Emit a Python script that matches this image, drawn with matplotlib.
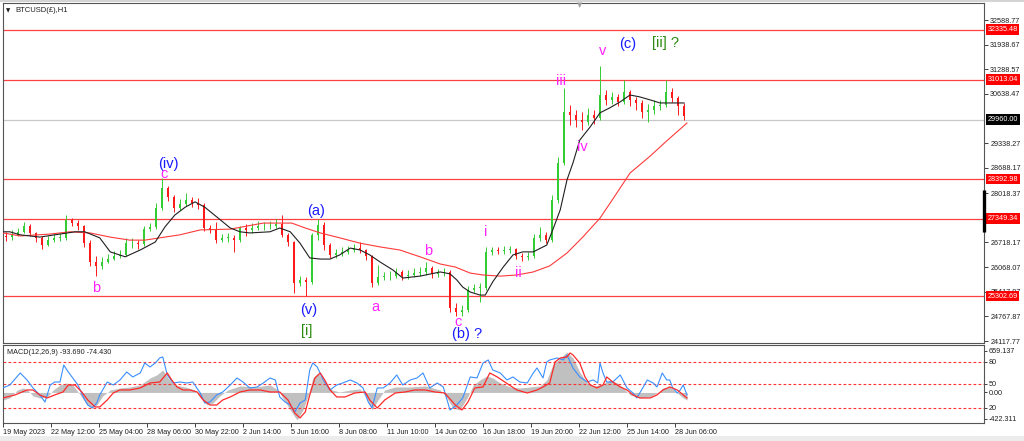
import matplotlib
matplotlib.use('Agg')
import matplotlib.pyplot as plt
import numpy as np
from matplotlib.patches import Rectangle
from matplotlib.transforms import blended_transform_factory

plt.rcParams['font.family'] = ['Liberation Sans', 'DejaVu Sans']

# ---------------- data ----------------
BARS_PER_CANDLE = 8          # each drawn candle groups 8 hourly bars
first_open = 26890

close = [
    26860, 26920, 27000, 27150, 26970, 26840, 26650, 26780, 26840, 26840,
    27310, 27230, 27150, 26700, 26200, 26100, 26200, 26280, 26360, 26390,
    26700, 26700, 26680, 27070, 27130, 27630, 28160, 27920, 27630, 27730,
    27840, 27760, 27710, 27100, 27050, 26780, 26840, 26840, 26780, 27100,
    27050, 27100, 27150, 27150, 27150, 27210, 26920, 26730, 25650, 25730,
    25680, 26920, 27180, 26650, 26390, 26440, 26470, 26520, 26570, 26520,
    26360, 25650, 25810, 25830, 25830, 25940, 25830, 25860, 25910, 25940,
    26040, 25890, 25910, 25940, 24990, 24880, 24940, 25460, 25520, 25520,
    26470, 26520, 26490, 26520, 26550, 26360, 26340, 26360, 26840, 26920,
    26780, 27840, 28820, 30160, 30080, 29950, 29900, 30080, 30000, 30610,
    30480, 30560, 30430, 30690, 30480, 30400, 30160, 30210, 30320, 30350,
    30690, 30530, 30320, 30060]

high = [
    27000, 27050, 27100, 27260, 27210, 27000, 26890, 26890, 26940, 26970,
    27440, 27360, 27310, 27180, 26780, 26360, 26340, 26410, 26490, 26520,
    26840, 26840, 26780, 27150, 27230, 27760, 28420, 28210, 27970, 27870,
    28020, 27920, 27890, 27760, 27180, 27260, 26940, 26970, 26920, 27150,
    27210, 27230, 27280, 27260, 27280, 27340, 27440, 26970, 26760, 25830,
    25810, 26970, 27340, 27260, 26700, 26550, 26600, 26630, 26680, 26730,
    26550, 26390, 26120, 25940, 25970, 26040, 25990, 25990, 26040, 26070,
    26200, 26100, 26020, 26040, 25990, 25120, 25070, 25570, 25620, 25650,
    26600, 26600, 26600, 26630, 26630, 26570, 26440, 26470, 26940, 27130,
    27000, 27970, 28970, 30800, 30350, 30210, 30160, 30270, 30210, 31380,
    30740, 30690, 30640, 31010, 30740, 30560, 30480, 30370, 30480, 30480,
    31010, 30800, 30580, 30400]

low = [
    26760, 26780, 26890, 26970, 26890, 26730, 26550, 26630, 26730, 26760,
    26780, 27150, 27050, 26600, 26100, 25830, 26020, 26180, 26260, 26310,
    26360, 26570, 26550, 26630, 27020, 27070, 27580, 27810, 27520, 27580,
    27680, 27650, 27600, 27020, 26970, 26700, 26730, 26730, 26470, 26730,
    26890, 26970, 27050, 27050, 27070, 27100, 26860, 26630, 25390, 25570,
    25310, 25620, 26780, 26520, 26310, 26310, 26360, 26410, 26470, 26440,
    26260, 25540, 25600, 25730, 25730, 25780, 25730, 25750, 25810, 25830,
    25860, 25780, 25810, 25830, 24880, 24780, 24780, 24880, 25410, 25150,
    25460, 26390, 26410, 26410, 26440, 26280, 26230, 26260, 26310, 26760,
    26700, 26730, 27760, 28760, 29820, 29770, 29690, 29820, 29840, 29950,
    30350, 30370, 30320, 30370, 30320, 30210, 30000, 29900, 30110, 30210,
    30290, 30430, 30080, 29950]

ma_fast_x = [0, 9, 23, 49, 76, 96, 109, 129, 143, 163, 183, 203, 216, 229, 243, 256, 269, 287, 303, 316,
             329, 356, 369, 383, 396, 409, 423, 436, 449, 463, 476, 489, 503, 520, 533, 556, 583, 596, 605, 613,
             623, 636, 643, 653, 667, 680, 693, 707, 720, 725, 733, 743, 752, 760, 769, 783, 796, 809, 823, 836,
             849, 863, 876, 889, 908]
ma_fast = [27000, 27000, 26920, 26860, 26940, 27000, 27000, 26840, 26470, 26340,
           26520, 26730, 27130, 27440, 27650, 27790, 27650, 27360, 27100, 27000,
           26970, 27000, 27100, 27000, 26700, 26310, 26280, 26280, 26390, 26570,
           26520, 26390, 26200, 25990, 25780, 25830, 25940, 25890, 25730, 25540,
           25410, 25330, 25330, 25680, 26070, 26390, 26470, 26470, 26600, 26650,
           27050, 27580, 28370, 28820, 29420, 29770, 30140, 30270, 30430, 30610,
           30560, 30480, 30400, 30400, 30400]

ma_slow_x = [0, 23, 63, 89, 116, 143, 169, 189, 209, 236, 263, 303, 347, 385, 403, 423, 449, 476, 503, 529,
             556, 583, 603, 623, 640, 663, 685, 707, 729, 752, 773, 796, 816, 836, 863, 885, 912]
ma_slow = [26970, 26890, 26940, 27000, 26970, 26860, 26780, 26780, 26840, 26920,
           27050, 27070, 27230, 27230, 27100, 26970, 26840, 26700, 26600, 26520,
           26340, 26150, 26070, 25910, 25860, 25830, 25860, 25940, 26100, 26440,
           26860, 27360, 27950, 28550, 29000, 29400, 29870]

levels = [32335.48, 31013.04, 28392.98, 27349.34, 25302.69]
current_price = 29960.00
price_ticks = [32588.77, 31938.67, 31288.57, 30638.47, 29338.27, 28688.17, 28018.37,
               26718.17, 26068.07, 25417.97, 24767.87, 24117.77]

date_ticks = [0, 64, 128, 192, 256, 320, 384, 448, 512, 576, 640, 704, 768, 832, 896]
date_labels = ['19 May 2023', '22 May 12:00', '25 May 04:00', '28 May 06:00', '30 May 22:00',
               '2 Jun 14:00', '5 Jun 16:00', '8 Jun 08:00', '11 Jun 10:00', '14 Jun 02:00',
               '16 Jun 18:00', '19 Jun 20:00', '22 Jun 12:00', '25 Jun 14:00', '28 Jun 06:00']

# wave labels: text, bar, price, colour
MAG, BLU, GRN = '#ff22ff', '#1a1aff', '#2a8a10'
wave_text = ['(iv)', 'c', 'b', '(a)', '(v)', '[i]', 'a', 'b', 'c', '(b) ?',
             'i', 'ii', 'iii', 'iv', 'v', '(c)', '[ii] ?']
wave_x = [220, 215, 124, 417, 407, 405, 497, 567, 607, 619, 643, 687, 744, 773, 799, 833, 884]
wave_y = [28790, 28525, 25517, 27550, 24936, 24382, 25015, 26493, 24620, 24300,
          26995, 25913, 30979, 29238, 31771, 31956, 31982]
wave_col = [BLU, MAG, MAG, BLU, BLU, GRN, MAG, MAG, MAG, BLU,
            MAG, MAG, MAG, MAG, MAG, BLU, GRN]

# MACD panel
blue_x = [0, 9, 23, 32, 40, 49, 56, 63, 69, 76, 81, 87, 93, 100, 107, 113, 119, 125, 129, 139,
          147, 156, 165, 173, 183, 189, 196, 203, 209, 213, 219, 227, 236, 245, 253, 263, 269, 276, 285, 293,
          303, 312, 320, 329, 339, 347, 356, 363, 369, 376, 383, 389, 396, 403, 409, 413, 419, 427, 436, 445,
          453, 463, 472, 480, 487, 492, 499, 507, 516, 525, 533, 543, 552, 560, 569, 579, 587, 596, 605, 613,
          623, 632, 640, 647, 653, 663, 672, 680, 689, 699, 707, 712, 720, 725, 729, 739, 747, 752, 760, 769,
          779, 787, 793, 796, 800, 805, 813, 823, 832, 840, 845, 853, 859, 867, 872, 879, 885, 889, 893, 899,
          903, 907, 912]
blue_v = [71, 118, 309, 198, 71, -40, -152, 118, 166, 166, 436, 325, 230, 118, -72, -200, -247, -168, -40, 166,
          118, 198, 325, 246, 309, 468, 405, 468, 548, 564, 278, 150, 166, 150, 166, -9, -168, -152, -40, 7,
          118, 230, 166, 71, 87, 150, 230, 198, -72, -152, -200, -311, -168, -120, 357, 468, 405, 198, 39, 118,
          150, 198, 150, 71, -152, -247, 71, 71, 150, 278, 118, 198, 230, 309, 71, 150, 87, -279, -200, -88,
          246, 230, 468, 516, 357, 309, 198, 246, 166, 150, 309, 389, 230, 484, 516, 548, 516, 596, 389, 246,
          166, 198, 150, 468, 309, 166, 166, 278, 71, -9, -88, 71, 198, 150, 87, 309, 198, 198, 71, -9,
          39, 118, -40]

sig_x = [0, 16, 32, 40, 49, 59, 69, 80, 87, 96, 105, 113, 123, 129, 139, 147, 156, 169, 183, 196,
         209, 219, 225, 232, 240, 249, 259, 267, 276, 285, 293, 303, 316, 329, 343, 356, 369, 380, 389, 396,
         403, 409, 416, 423, 429, 436, 445, 456, 469, 483, 489, 499, 509, 523, 536, 549, 563, 576, 589, 603,
         612, 620, 629, 640, 649, 659, 669, 685, 699, 712, 720, 729, 736, 743, 752, 756, 760, 769, 776, 783,
         792, 800, 805, 813, 823, 832, 840, 849, 863, 872, 880, 889, 899, 907, 912]
sig_v = [-88, -40, 39, 39, -40, -88, -40, 7, 118, 118, 7, -120, -231, -231, -120, -9, 39, 39, 71, 150,
         166, 309, 198, 87, 39, 39, 7, -120, -200, -200, -120, -72, 7, 39, 39, 7, 7, -120, -327, -406,
         -311, -40, 230, 309, 198, 39, -72, -72, -9, 7, -120, -247, -120, -9, 7, 39, 39, 7, -9, -200,
         -279, -152, 71, 87, 309, 246, 166, 39, -9, 39, 87, 150, 484, 548, 564, 627, 596, 468, 246, 118,
         71, 118, 246, 166, 87, 39, -40, -88, -88, -40, 39, 87, 39, -40, -88]

hist_x = [0, 9, 19, 27, 33, 40, 49, 59, 67, 76, 85, 93, 103, 112, 119, 125, 133, 143, 156, 169,
          183, 196, 205, 213, 220, 229, 243, 256, 263, 272, 280, 289, 300, 316, 336, 356, 367, 373, 383, 392,
          400, 407, 413, 420, 429, 439, 449, 463, 476, 485, 492, 500, 509, 523, 543, 563, 583, 592, 600, 609,
          619, 627, 636, 645, 653, 663, 676, 689, 703, 716, 725, 733, 743, 752, 760, 769, 779, 789, 800, 809,
          819, 827, 836, 849, 863, 872, 880, 889, 899, 907, 912]
hist_v = [-120, -88, 39, 71, 39, -56, -88, -72, 39, 118, 150, 118, -40, -200, -247, -200, -56, 39, 71, 87,
          118, 230, 278, 357, 230, 118, 87, 39, -88, -200, -168, -56, 39, 103, 87, 118, 39, -88, -279, -438,
          -279, -40, 230, 309, 166, 39, 7, 39, 55, -88, -279, -120, 39, 87, 87, 103, 39, -88, -247, -279,
          -88, 118, 198, 262, 230, 150, 87, 71, 87, 103, 198, 436, 548, 643, 548, 325, 150, 103, 134, 198,
          150, 71, -40, -88, -72, -9, 71, 87, -9, -88, -120]

macd_levels = [484, 134, -247]
macd_ticks = [659.137, 484, 134, 0, -247, -422.311]
macd_tick_labels = ['659.137', '80', '50', '0.00', '20', '-422.311']

# ---------------- figure ----------------
W, H = 1024, 441
fig = plt.figure(figsize=(W / 100, H / 100), dpi=100, facecolor='white')


def box(x0, y0, x1, y1):
    return [x0 / W, 1 - y1 / H, (x1 - x0) / W, (y1 - y0) / H]


fig.patches.append(Rectangle((0, 0), 1, 5 / H, transform=fig.transFigure,
                             facecolor='#ececec', edgecolor='none', zorder=0))
fig.patches.append(Rectangle((0, 1 - 2 / H), 1, 2 / H, transform=fig.transFigure,
                             facecolor='#d4d4d4', edgecolor='none', zorder=0))

ax = fig.add_axes(box(3, 3, 984, 343))
axm = fig.add_axes(box(3, 345, 984, 423), sharex=ax)

# candles
close_a = np.array(close, dtype=float)
high_a = np.array(high, dtype=float)
low_a = np.array(low, dtype=float)
n = len(close_a)
t = np.arange(n) * BARS_PER_CANDLE + BARS_PER_CANDLE / 2
opens = np.concatenate([[first_open], close_a[:-1]])
up = close_a >= opens
cols = np.where(up, '#33cc33', '#ff1a1a')
ax.vlines(t, low_a, high_a, colors=cols, lw=0.7, zorder=3)
body = close_a - opens
body = np.where(np.abs(body) < 15, 15, body)
ax.bar(t, body, bottom=opens, width=3.6, color=cols, lw=0, zorder=3)

# moving averages
ax.plot(ma_slow_x, ma_slow, color='#ff3a3a', lw=0.8, zorder=4)
ax.plot(ma_fast_x, ma_fast, color='#202020', lw=0.8, zorder=4)

# horizontal levels
for lv in levels:
    ax.axhline(lv, color='#ff4040', lw=0.9, zorder=2)
ax.axhline(current_price, color='#c8c8c8', lw=0.9, zorder=1)

ax.set_xlim(0, 1308)
ax.set_ylim(24065, 33038)
ax.yaxis.tick_right()
ax.set_yticks(price_ticks)
ax.set_yticklabels([f'{v:.2f}' for v in price_ticks])
ax.tick_params(axis='y', length=3, width=0.6, pad=1.5, labelsize=5.2, colors='#202020')
ax.tick_params(axis='x', bottom=False, labelbottom=False)
for s in ax.spines.values():
    s.set_color('#555555')
    s.set_linewidth(0.8)

trans = blended_transform_factory(ax.transAxes, ax.transData)
for lv in levels:
    ax.text(1.0035, lv, f'{lv:.2f}', transform=trans, ha='left', va='center', fontsize=5.2,
            color='white', clip_on=False, zorder=6,
            bbox=dict(boxstyle='square,pad=0.25', fc='#ff0000', ec='none'))
ax.text(1.0035, current_price, f'{current_price:.2f}', transform=trans, ha='left', va='center',
        fontsize=5.2, color='white', clip_on=False, zorder=6,
        bbox=dict(boxstyle='square,pad=0.25', fc='#000000', ec='none'))

# chart-shift marker and scroll marker
ax.plot([1, 1], [0.326, 0.45], transform=ax.transAxes, lw=2.4, color='black',
        clip_on=False, zorder=7, solid_capstyle='butt')
fig.text(580 / W, 1 - 5 / H, '▼', fontsize=5, color='#a0a0a0', ha='center', va='center',
         family=['DejaVu Sans'])

# title
ax.text(0.003, 0.978, '▼', transform=ax.transAxes, fontsize=4, va='center', ha='left',
        color='#202020', family=['DejaVu Sans'])
ax.text(0.013, 0.978, 'BTCUSD(£),H1', transform=ax.transAxes, fontsize=5.5, va='center',
        ha='left', color='#202020')

# wave labels
for txt, x, y, c in zip(wave_text, wave_x, wave_y, wave_col):
    ax.text(x, y, txt, color=c, fontsize=10.5, ha='center', va='center', zorder=8)

# ---------------- MACD ----------------
axm.fill_between(hist_x, 0, hist_v, color='#c0c0c0', lw=0, zorder=1)
for lv in macd_levels:
    axm.axhline(lv, color='#ff3030', lw=0.8, ls=(0, (2.5, 2)), zorder=2)
axm.plot(blue_x, blue_v, color='#3a8fff', lw=0.8, zorder=3)
axm.plot(sig_x, sig_v, color='#ff2a2a', lw=0.9, zorder=4)
axm.set_ylim(-486, 754)
axm.yaxis.tick_right()
axm.set_yticks(macd_ticks)
axm.set_yticklabels(macd_tick_labels)
axm.tick_params(axis='y', length=2, width=0.6, pad=1.5, labelsize=5.2, colors='#202020')
axm.set_xticks(date_ticks)
axm.set_xticklabels(date_labels, ha='left')
axm.tick_params(axis='x', length=3, width=0.6, pad=1.5, labelsize=5.2, colors='#202020')
for s in axm.spines.values():
    s.set_color('#555555')
    s.set_linewidth(0.8)
axm.text(0.004, 0.9, 'MACD(12,26,9) -93.690 -74.430', transform=axm.transAxes,
         fontsize=5.2, ha='left', va='center', color='#202020')

fig.savefig('out.png', dpi=100, facecolor='white')
